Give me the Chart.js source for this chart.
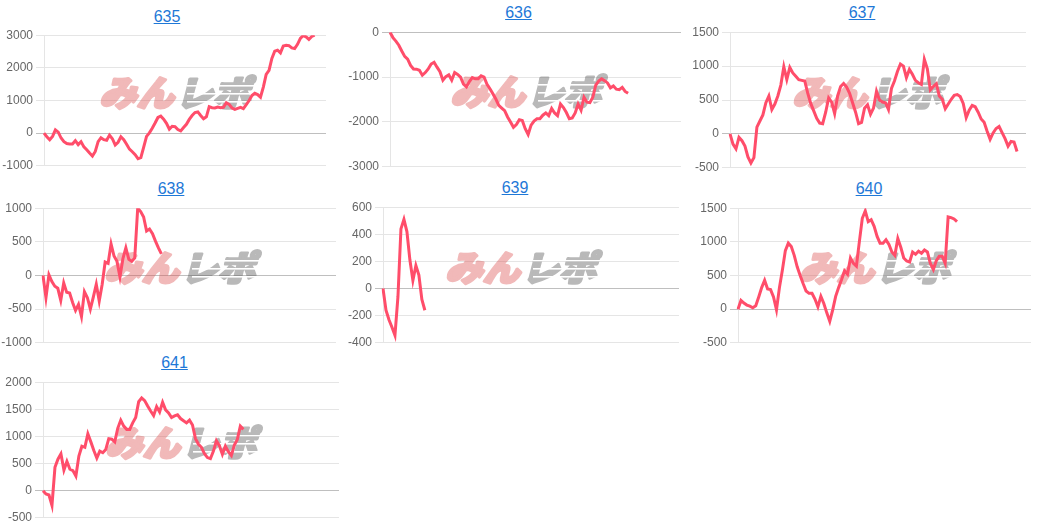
<!DOCTYPE html>
<html>
<head>
<meta charset="utf-8">
<script src="https://cdn.jsdelivr.net/npm/chart.js@4.4.0/dist/chart.umd.min.js"></script>
<style>
html, body { margin: 0; padding: 0; background: #fff; overflow: hidden; }
#wrap { position: relative; width: 1039px; height: 527px; }
.ttl { position: absolute; width: 100px; text-align: center; font: 16px/18px "Liberation Sans", Arial, sans-serif; }
.ttl a { color: #1e78d7; text-decoration: underline; }
canvas { position: absolute; }
</style>
</head>
<body>
<div id="wrap"></div>
<script>
// machine numbers
const titles = ['635', '636', '637', '638', '639', '640', '641'];

// running difference per game
const s635 = [0,-110,-200,-100,100,30,-150,-260,-320,-330,
  -330,-230,-350,-260,-420,-510,-610,-700,-560,-260,
  -140,-200,-220,-60,-170,-360,-280,-110,-200,-340,
  -490,-570,-660,-780,-750,-430,-100,10,150,310,
  480,520,430,300,120,210,200,110,70,170,
  270,420,540,630,650,540,440,500,810,780,
  770,800,780,790,930,880,770,730,760,790,
  750,870,1000,1150,1220,1180,1100,1410,1800,1920,
  2290,2510,2540,2460,2670,2690,2680,2610,2590,2720,
  2900,2990,2950,2870,2960,3000];
const s636 = [0,-120,-200,-290,-420,-540,-600,-740,-820,-825,
  -850,-960,-900,-820,-710,-670,-780,-880,-1070,-990,
  -950,-1070,-900,-940,-1000,-1160,-1220,-1100,-1010,-1040,
  -1040,-970,-1000,-1160,-1260,-1370,-1490,-1630,-1690,-1750,
  -1890,-2000,-2120,-2060,-1950,-1970,-2150,-2280,-2070,-1980,
  -1930,-1930,-1850,-1800,-1860,-1700,-1800,-1860,-1600,-1680,
  -1790,-1930,-1910,-1800,-1600,-1740,-1450,-1560,-1570,-1450,
  -1180,-1090,-1040,-1080,-1130,-1240,-1200,-1270,-1280,-1230,
  -1320,-1360];
const s637 = [0,-150,-220,-50,-100,-180,-340,-430,-350,100,
  190,280,460,560,360,440,560,720,990,800,
  980,900,850,800,790,780,600,450,340,230,
  160,150,320,530,470,300,560,700,745,690,
  600,460,320,150,170,380,430,290,380,630,
  500,470,460,360,670,780,920,1030,1000,830,
  950,880,790,755,730,1100,960,650,700,740,
  560,510,370,440,510,570,580,550,450,240,
  350,420,400,320,220,170,40,-80,15,80,
  110,20,-70,-180,-110,-120,-260];
const s638 = [0,-330,10,-90,-160,-190,-370,-110,-250,-260,
  -400,-520,-430,-610,-240,-330,-500,-320,-130,-380,
  -130,200,180,470,290,210,-20,250,410,240,
  210,260,1000,950,870,660,690,620,510,410,
  320];
const s639 = [0,-160,-230,-285,-345,-60,440,510,420,210,60,170,100,-80,-160];
const s640 = [0,130,90,60,45,20,50,180,320,430,
  300,290,180,-10,320,580,870,980,930,800,
  630,500,380,270,235,235,150,35,190,85,
  -55,-180,-10,190,320,440,570,520,760,680,
  640,1000,1350,1460,1300,1330,1230,1080,980,980,
  1030,960,850,800,1050,920,760,715,700,850,
  815,860,830,880,850,680,590,720,785,785,
  680,1370,1360,1340,1300];
const s641 = [0,-60,-80,-270,430,580,680,380,540,395,
  370,270,640,820,800,1050,900,740,600,730,
  700,760,960,950,900,1150,1300,1190,1130,1130,
  1250,1350,1640,1710,1660,1560,1470,1385,1550,1450,
  1630,1490,1435,1350,1380,1400,1330,1290,1250,1300,
  1210,960,855,800,680,610,590,730,920,830,
  670,820,720,650,840,945,1190,1130];
const series = [s635, s636, s637, s638, s639, s640, s641];

// y axis ranges
const yMin = [-1000, -3000, -500, -1000, -400, -500, -500];
const yMax = [3000, 0, 1500, 1000, 600, 1500, 2000];
const yStep = [1000, 1000, 500, 500, 200, 500, 500];

// x slots (games), same for every chart
const labels = Array.from({ length: 100 }, (_, i) => i + 1);

// where each chart sits on the page
const boxes = [
  { cell: 0,   L: 44,  R: 326,  T: 35,  B: 166, tx: 167,   ty: 11 },
  { cell: 346, L: 390, R: 681,  T: 32,  B: 167, tx: 518.5, ty: 7 },
  { cell: 692, L: 730, R: 1026, T: 32,  B: 168, tx: 862,   ty: 7 },
  { cell: 0,   L: 43,  R: 336,  T: 208, B: 343, tx: 171,   ty: 182.5 },
  { cell: 346, L: 383, R: 679,  T: 207, B: 343, tx: 515,   ty: 182 },
  { cell: 692, L: 738, R: 1031, T: 208, B: 343, tx: 869,   ty: 182.5 },
  { cell: 0,   L: 43,  R: 339,  T: 382, B: 518, tx: 174.5, ty: 357 },
];
const PAD = 10;

// watermark drawn once on an offscreen canvas (opaque), laid on with alpha
function makeMark() {
  const c = document.createElement('canvas');
  c.width = 180; c.height = 44;
  const g = c.getContext('2d');
  g.font = '900 35px "Noto Sans CJK JP"';
  g.textBaseline = 'middle';
  g.lineJoin = 'round';
  g.lineWidth = 3;
  g.setTransform(1.06, 0, -0.26, 1, 14, 0);
  g.fillStyle = g.strokeStyle = 'rgb(220, 80, 80)';
  g.fillText('みん', 0, 23);
  g.strokeText('みん', 0, 23);
  const w = g.measureText('みん').width;
  g.fillStyle = g.strokeStyle = 'rgb(80, 80, 80)';
  g.fillText('レポ', w + 2, 23);
  g.strokeText('レポ', w + 2, 23);
  g.setTransform(1, 0, 0, 1, 0, 0);
  g.globalCompositeOperation = 'destination-out';
  [15, 23, 31].forEach(y => g.fillRect(92, y, 88, 1.6));
  return c;
}
const mark = makeMark();

const watermarkPlugin = {
  id: 'watermark',
  beforeDatasetsDraw(chart) {
    const a = chart.chartArea;
    const ctx = chart.ctx;
    ctx.save();
    ctx.globalAlpha = 0.4;
    ctx.drawImage(mark, Math.round((a.left + a.right) / 2 - mark.width / 2),
      Math.round((a.top + a.bottom) / 2 - 8 - mark.height / 2));
    ctx.restore();
  }
};

const wrap = document.getElementById('wrap');

series.forEach((data, k) => {
  const b = boxes[k];

  const t = document.createElement('div');
  t.className = 'ttl';
  t.style.left = (b.tx - 50) + 'px';
  t.style.top = (b.ty - 3) + 'px';
  t.innerHTML = '<a href="#">' + titles[k] + '</a>';
  wrap.appendChild(t);

  const cv = document.createElement('canvas');
  cv.width = b.R - b.cell + 2;
  cv.height = b.B - b.T + PAD * 2;
  cv.style.left = b.cell + 'px';
  cv.style.top = (b.T - PAD) + 'px';
  wrap.appendChild(cv);

  const axisW = b.L - b.cell;

  new Chart(cv.getContext('2d'), {
    type: 'line',
    data: {
      labels,
      datasets: [{
        data,
        borderColor: 'rgb(255, 77, 106)',
        borderWidth: 3,
        pointRadius: 0,
        tension: 0,
        fill: false,
      }]
    },
    options: {
      responsive: false,
      animation: false,
      layout: { padding: { top: PAD, bottom: PAD, left: 0, right: 2 } },
      plugins: { legend: { display: false }, tooltip: { enabled: false } },
      scales: {
        x: { display: false },
        y: {
          min: yMin[k],
          max: yMax[k],
          ticks: {
            stepSize: yStep[k],
            color: '#666',
            font: { size: 12 },
            callback: v => String(v)
          },
          grid: {
            color: c => (c.tick && c.tick.value === 0) ? 'rgba(0,0,0,0.25)' : 'rgba(0,0,0,0.1)'
          },
          border: { color: 'rgba(0,0,0,0.1)' },
          afterFit(scale) { scale.width = axisW; }
        }
      }
    },
    plugins: [watermarkPlugin]
  });
});
</script>
</body>
</html>
